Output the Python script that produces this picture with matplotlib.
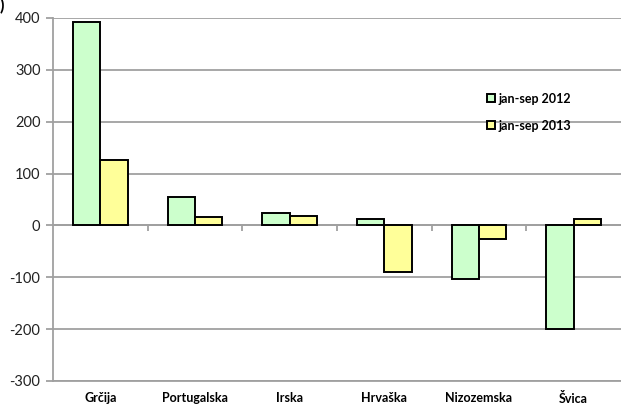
import numpy as np
import matplotlib
matplotlib.use('Agg')
import matplotlib.pyplot as plt

plt.rcParams['font.family'] = ['Lato', 'DejaVu Sans']

# data
countries = ['Grčija', 'Portugalska', 'Irska', 'Hrvaška', 'Nizozemska', 'Švica']
val_2012 = [392, 55, 24, 12, -103, -199]
val_2013 = [126, 16, 19, -90, -27, 12]
labels = ['jan-sep 2012', 'jan-sep 2013']
yticks = [-300, -200, -100, 0, 100, 200, 300, 400]

fig = plt.figure(figsize=(6.21, 4.07), dpi=100)
ax = fig.add_axes([0.0853, 0.0639, 0.9147, 0.8919])

x = np.arange(len(countries))
w = 0.29
ax.bar(x - w / 2, val_2012, w, color='#ccffcc', edgecolor='black', linewidth=1.4,
       label=labels[0], zorder=3)
ax.bar(x + w / 2, val_2013, w, color='#ffff99', edgecolor='black', linewidth=1.4,
       label=labels[1], zorder=3)

ax.set_xlim(-0.5, len(countries) - 0.5)
ax.set_ylim(-300, 400)
ax.set_yticks(yticks)
ax.set_yticklabels([str(v) for v in yticks], fontsize=10.5, color='#222222')
ax.yaxis.grid(True, color='#a0a0a0', linewidth=1.3, zorder=0)
ax.set_axisbelow(True)

ax.set_xticks(x)
ax.set_xticklabels(countries, fontsize=9, fontweight='bold')
ax.tick_params(axis='x', length=0, pad=8)
ax.tick_params(axis='y', length=5, color='#a0a0a0', width=1.3, pad=4)

# zero line with category separators
ax.axhline(0, color='#a0a0a0', linewidth=1.3, zorder=2)
bounds = np.arange(0.5, len(countries) - 0.5, 1.0)
ax.vlines(bounds, -10, 0, color='#a0a0a0', linewidth=1.3, zorder=2)

for s in ['top', 'right']:
    ax.spines[s].set_visible(False)
for s in ['left', 'bottom']:
    ax.spines[s].set_color('#a0a0a0')
    ax.spines[s].set_linewidth(1.3)

leg = ax.legend(loc='upper left', bbox_to_anchor=(0.745, 0.825), frameon=False,
                prop={'weight': 'bold', 'size': 9}, handlelength=0.6,
                handleheight=0.6, handletextpad=0.3, labelspacing=1.2)

fig.text(0.0, 0.985, ')', fontsize=12, fontweight='bold', va='center')

fig.savefig('out.png', dpi=100)
